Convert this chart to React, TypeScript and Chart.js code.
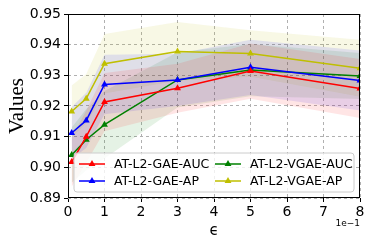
import React, { useEffect, useRef } from "react";
import { Chart, registerables } from "chart.js";

Chart.register(...registerables);

const xValues = [0.1, 0.5, 1, 3, 5, 8];
const xTicks = [0, 1, 2, 3, 4, 5, 6, 7, 8];
const yTicks = [0.89, 0.9, 0.91, 0.92, 0.93, 0.94, 0.95];

const gaeAucMean = [0.9017, 0.9100, 0.9213, 0.9258, 0.9314, 0.9257];
const gaeAucStd = [0.0080, 0.0085, 0.0095, 0.0080, 0.0090, 0.0096];
const gaeApMean = [0.9112, 0.9153, 0.9270, 0.9285, 0.9326, 0.9283];
const gaeApStd = [0.0085, 0.0090, 0.0097, 0.0085, 0.0090, 0.0098];
const vgaeAucMean = [0.9040, 0.9090, 0.9139, 0.9285, 0.9317, 0.9298];
const vgaeAucStd = [0.0090, 0.0100, 0.0110, 0.0090, 0.0085, 0.0075];
const vgaeApMean = [0.9182, 0.9224, 0.9338, 0.9378, 0.9371, 0.9323];
const vgaeApStd = [0.0085, 0.0080, 0.0097, 0.0096, 0.0076, 0.0093];

const seriesLabels = ["AT-L2-GAE-AUC", "AT-L2-GAE-AP", "AT-L2-VGAE-AUC", "AT-L2-VGAE-AP"];
const seriesColors = ["#ff0000", "#0000ff", "#008000", "#bfbf00"];
const bandColors = [
  "rgba(255,0,0,0.1)",
  "rgba(0,0,255,0.1)",
  "rgba(0,128,0,0.1)",
  "rgba(191,191,0,0.1)",
];
const means = [gaeAucMean, gaeApMean, vgaeAucMean, vgaeApMean];
const stds = [gaeAucStd, gaeApStd, vgaeAucStd, vgaeApStd];

const TICK_FONT = "DejaVu Sans";

const legendPlugin = {
  id: "innerLegend",
  afterDraw(chart: any) {
    const ctx = chart.ctx;
    const area = chart.chartArea;
    const boxL = area.left + 6;
    const boxR = area.right - 6;
    const boxB = area.bottom - 6;
    const boxT = boxB - 39;
    ctx.save();
    ctx.beginPath();
    const r = 3;
    ctx.moveTo(boxL + r, boxT);
    ctx.lineTo(boxR - r, boxT);
    ctx.quadraticCurveTo(boxR, boxT, boxR, boxT + r);
    ctx.lineTo(boxR, boxB - r);
    ctx.quadraticCurveTo(boxR, boxB, boxR - r, boxB);
    ctx.lineTo(boxL + r, boxB);
    ctx.quadraticCurveTo(boxL, boxB, boxL, boxB - r);
    ctx.lineTo(boxL, boxT + r);
    ctx.quadraticCurveTo(boxL, boxT, boxL + r, boxT);
    ctx.closePath();
    ctx.fillStyle = "rgba(255,255,255,0.8)";
    ctx.fill();
    ctx.strokeStyle = "#cccccc";
    ctx.lineWidth = 1;
    ctx.stroke();

    const cols = [boxL + 5, boxL + 141];
    const rows = [boxT + 11, boxT + 28];
    const order = [0, 2, 1, 3];
    ctx.font = `12.5px "${TICK_FONT}"`;
    ctx.textBaseline = "middle";
    ctx.textAlign = "left";
    order.forEach((si, k) => {
      const col = k % 2;
      const row = Math.floor(k / 2);
      const x0 = cols[col];
      const y0 = rows[row];
      ctx.strokeStyle = seriesColors[si];
      ctx.lineWidth = 1.5;
      ctx.beginPath();
      ctx.moveTo(x0, y0);
      ctx.lineTo(x0 + 26, y0);
      ctx.stroke();
      const cx = x0 + 13;
      const rr = 4;
      ctx.fillStyle = seriesColors[si];
      ctx.beginPath();
      ctx.moveTo(cx, y0 - rr);
      ctx.lineTo(cx + rr * 0.866, y0 + rr * 0.5);
      ctx.lineTo(cx - rr * 0.866, y0 + rr * 0.5);
      ctx.closePath();
      ctx.fill();
      ctx.fillStyle = "#000";
      ctx.fillText(seriesLabels[si], x0 + 35, y0 + 1);
    });

    ctx.font = `9px "${TICK_FONT}"`;
    ctx.textAlign = "right";
    ctx.textBaseline = "middle";
    ctx.fillStyle = "#000";
    ctx.fillText("1e\u22121", area.right, area.bottom + 26);

    ctx.strokeStyle = "#000";
    ctx.lineWidth = 1;
    ctx.strokeRect(area.left + 0.5, area.top + 0.5, area.right - area.left - 1, area.bottom - area.top - 1);
    ctx.restore();
  },
};

export default function App() {
  const ref = useRef<HTMLCanvasElement>(null);
  useEffect(() => {
    if (!ref.current) return;
    const lineSets = means.map((m, i) => ({
      label: seriesLabels[i],
      data: xValues.map((x, j) => ({ x, y: m[j] })),
      borderColor: seriesColors[i],
      backgroundColor: seriesColors[i],
      borderWidth: 1.5,
      pointStyle: "triangle",
      pointRadius: 4,
      pointBorderWidth: 0,
      fill: false,
      tension: 0,
    }));
    const bandSets: any[] = [];
    means.forEach((m, i) => {
      bandSets.push({
        label: "lower" + i,
        data: xValues.map((x, j) => ({ x, y: m[j] - stds[i][j] })),
        borderWidth: 0,
        pointRadius: 0,
        borderColor: "rgba(0,0,0,0)",
        fill: false,
      });
      bandSets.push({
        label: "upper" + i,
        data: xValues.map((x, j) => ({ x, y: m[j] + stds[i][j] })),
        borderWidth: 0,
        pointRadius: 0,
        borderColor: "rgba(0,0,0,0)",
        backgroundColor: bandColors[i],
        fill: "-1",
      });
    });
    const chart = new Chart(ref.current, {
      type: "line",
      data: { datasets: [...lineSets, ...bandSets] as any },
      options: {
        animation: false,
        responsive: false,
        maintainAspectRatio: false,
        layout: { padding: { left: 5, top: 14, right: 14, bottom: 0 } },
        plugins: { legend: { display: false }, tooltip: { enabled: false } },
        scales: {
          x: {
            type: "linear",
            min: 0,
            max: 8,
            afterBuildTicks: (s: any) => {
              s.ticks = xTicks.map((v) => ({ value: v }));
            },
            afterFit: (s: any) => {
              s.height = 51;
            },
            ticks: {
              font: { family: TICK_FONT, size: 14 },
              color: "#000",
              padding: 2,
              maxRotation: 0,
              callback: (v: any) => String(v),
            },
            grid: {
              color: "#b0b0b0",
              tickColor: "#000",
              tickLength: 4,
            },
            border: { display: false, dash: [3, 3] },
            title: {
              display: true,
              text: "\u03f5",
              font: { family: TICK_FONT, size: 15 },
              color: "#000",
              padding: { top: 0, bottom: 9 },
            },
          },
          y: {
            type: "linear",
            min: 0.89,
            max: 0.95,
            afterBuildTicks: (s: any) => {
              s.ticks = yTicks.map((v) => ({ value: v }));
            },
            afterFit: (s: any) => {
              s.width = 63;
            },
            ticks: {
              font: { family: TICK_FONT, size: 14 },
              color: "#000",
              padding: 3,
              callback: (v: any) => Number(v).toFixed(2),
            },
            grid: {
              color: "#b0b0b0",
              tickColor: "#000",
              tickLength: 4,
            },
            border: { display: false, dash: [3, 3] },
            title: {
              display: true,
              text: "Values",
              font: { family: "Liberation Serif", size: 21 },
              color: "#000",
              padding: { top: 0, bottom: 1 },
            },
          },
        },
      },
      plugins: [legendPlugin],
    } as any);
    return () => chart.destroy();
  }, []);
  return (
    <div style={{ position: "fixed", left: 0, top: 0, width: 374, height: 249, background: "#fff" }}>
      <canvas ref={ref} width={374} height={249} style={{ width: 374, height: 249 }} />
    </div>
  );
}
